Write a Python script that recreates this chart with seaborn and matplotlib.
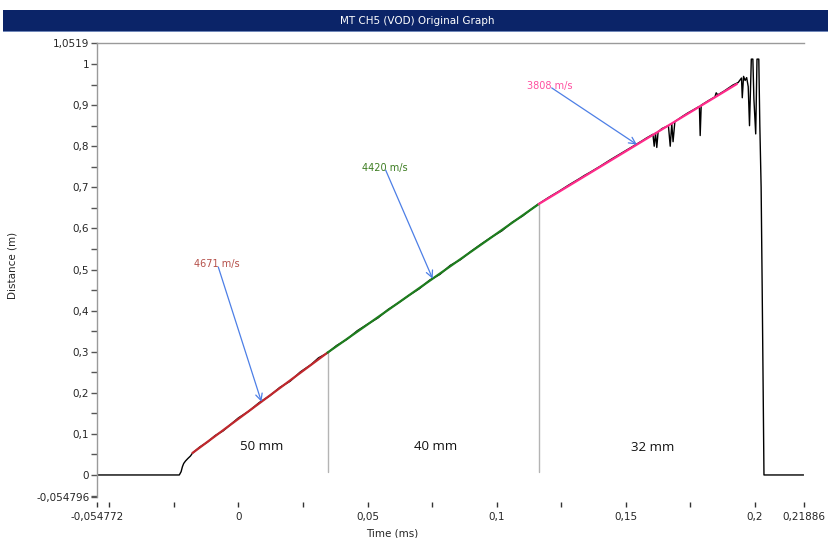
import numpy as np
import pandas as pd
import matplotlib
matplotlib.use("Agg")
import matplotlib.pyplot as plt
from matplotlib.patches import Rectangle
from matplotlib.ticker import FixedLocator, FixedFormatter
import seaborn as sns

# ---- data -------------------------------------------------------------
# measured probe trace: time (ms) / distance (m)
trace_t = [-0.054772, -0.0229, -0.0222, -0.0217, -0.0212, -0.0205, -0.0196, -0.0186, -0.0178,
           -0.015, -0.012, -0.009, -0.006, -0.003, 0.000, 0.004, 0.008, 0.012, 0.016, 0.020,
           0.024, 0.028, 0.031, 0.0345,
           0.038, 0.042, 0.046, 0.050, 0.054, 0.058, 0.062, 0.066, 0.070, 0.074, 0.078, 0.082,
           0.086, 0.090, 0.094, 0.098, 0.102, 0.106, 0.110, 0.113, 0.1163,
           0.120, 0.124, 0.128, 0.132, 0.134, 0.136, 0.140, 0.144, 0.148, 0.152, 0.156, 0.158,
           0.1605, 0.1610, 0.1615, 0.1620, 0.1625, 0.164, 0.1665, 0.1672, 0.1678, 0.1683, 0.169,
           0.172, 0.174, 0.176, 0.1785, 0.1788, 0.1792, 0.182, 0.1845, 0.1850, 0.1856, 0.188,
           0.1915, 0.1935, 0.1948, 0.1951, 0.1956, 0.1962, 0.1968, 0.1974, 0.1979, 0.1986,
           0.1992, 0.1996, 0.2003, 0.2008, 0.2015, 0.2019, 0.2024, 0.2028, 0.2032, 0.2035, 0.21886]
trace_d = [0.0, 0.0, 0.008, 0.020, 0.028, 0.034, 0.040, 0.046, 0.053,
           0.068, 0.080, 0.096, 0.107, 0.123, 0.139, 0.155, 0.176, 0.192, 0.213, 0.228,
           0.251, 0.268, 0.285, 0.297,
           0.315, 0.330, 0.351, 0.367, 0.382, 0.403, 0.419, 0.437, 0.453, 0.474, 0.488, 0.510,
           0.524, 0.544, 0.562, 0.579, 0.594, 0.615, 0.630, 0.645, 0.660,
           0.675, 0.690, 0.706, 0.721, 0.729, 0.736, 0.751, 0.767, 0.782, 0.797, 0.812, 0.820,
           0.829, 0.800, 0.832, 0.797, 0.835, 0.843, 0.850, 0.800, 0.855, 0.811, 0.860,
           0.873, 0.881, 0.888, 0.897, 0.826, 0.900, 0.911, 0.920, 0.930, 0.925, 0.934,
           0.949, 0.955, 0.966, 0.918, 0.970, 0.960, 0.967, 0.945, 0.850, 1.012,
           1.012, 0.915, 0.830, 1.012, 1.012, 0.850, 0.700, 0.460, 0.200, 0.0, 0.0]

# velocity fit segments
seg_bounds = [-0.0178, 0.0345, 0.1163, 0.193]   # ms
seg_start_d = 0.0535                             # m
seg_velocity = [4671, 4420, 3808]                # m/s
seg_names = ["50 mm", "40 mm", "32 mm"]
seg_colors = ["#c0282d", "#1e7d1e", "#ff2a8a"]
label_colors = ["#b5504a", "#3d7d22", "#ff4fa0"]

# annotation positions (text anchor, arrow tail, arrow tip t)
label_xy = [(-0.0171, 0.513), (0.0477, 0.747), (0.1116, 0.946)]
arrow_tail = [(-0.0078, 0.506), (0.0570, 0.742), (0.1213, 0.942)]
arrow_tip_t = [0.0089, 0.0752, 0.1543]
charge_label_xy = [(0.0090, 0.070), (0.0765, 0.070), (0.1605, 0.067)]

x_ticks = [-0.054772, 0, 0.05, 0.1, 0.15, 0.2, 0.21886]
x_labels = ["-0,054772", "0", "0,05", "0,1", "0,15", "0,2", "0,21886"]
x_minor = [-0.05, -0.025, 0.025, 0.075, 0.125, 0.175]
y_ticks = [-0.054796, 0, 0.1, 0.2, 0.3, 0.4, 0.5, 0.6, 0.7, 0.8, 0.9, 1.0, 1.0519]
y_labels = ["-0,054796", "0", "0,1", "0,2", "0,3", "0,4", "0,5", "0,6", "0,7", "0,8",
            "0,9", "1", "1,0519"]
y_minor = [-0.05, 0.05, 0.15, 0.25, 0.35, 0.45, 0.55, 0.65, 0.75, 0.85, 0.95]

# ---- build fit lines from the stated velocities ----------------------
fit_rows = []
d0 = seg_start_d
for i, v in enumerate(seg_velocity):
    t0, t1 = seg_bounds[i], seg_bounds[i + 1]
    d1 = d0 + v / 1000.0 * (t1 - t0)
    fit_rows += [(seg_names[i], t0, d0), (seg_names[i], t1, d1)]
    d0 = d1
fit_df = pd.DataFrame(fit_rows, columns=["segment", "t", "d"])
trace_df = pd.DataFrame({"t": trace_t, "d": trace_d})


def fit_value(t):
    d = seg_start_d
    for i, v in enumerate(seg_velocity):
        t0, t1 = seg_bounds[i], seg_bounds[i + 1]
        if t <= t1:
            return d + v / 1000.0 * (t - t0)
        d += v / 1000.0 * (t1 - t0)
    return d


# ---- figure -----------------------------------------------------------
sns.set_theme(style="white")
plt.rcParams["font.family"] = ["DejaVu Sans"]

fig = plt.figure(figsize=(8.29, 5.38), dpi=100)
fig.patch.set_facecolor("white")
ax = fig.add_axes([0.117, 0.0753, 0.8524, 0.8453])

# title bar
fig.patches.append(Rectangle((0.004, 1 - 31 / 538), 0.996, 21 / 538, transform=fig.transFigure,
                             facecolor="#0b2468", edgecolor="none", zorder=0))
fig.patches.append(Rectangle((0.004, 1 - 32 / 538), 0.996, 1.2 / 538, transform=fig.transFigure,
                             facecolor="#6f86b8", edgecolor="none", zorder=0))
fig.text(0.503, 1 - 20.5 / 538, "MT CH5 (VOD) Original Graph", color="white",
         ha="center", va="center", fontsize=7.5)

sns.lineplot(data=trace_df, x="t", y="d", ax=ax, color="black", lw=1.0,
             estimator=None, sort=False, zorder=2)
sns.lineplot(data=fit_df, x="t", y="d", hue="segment", palette=seg_colors, ax=ax,
             lw=1.6, estimator=None, sort=False, legend=False, zorder=3)

# segment separators
for tb in seg_bounds[1:3]:
    ax.plot([tb, tb], [0.007, fit_value(tb)], color="#b4b4b4", lw=1.0, zorder=1)

# velocity annotations
for i, v in enumerate(seg_velocity):
    tip = (arrow_tip_t[i], fit_value(arrow_tip_t[i]))
    ax.annotate("", xy=tip, xytext=arrow_tail[i],
                arrowprops=dict(arrowstyle="->", color="#4d7fe6", lw=0.9,
                                mutation_scale=12, shrinkA=0, shrinkB=0), zorder=4)
    ax.text(label_xy[i][0], label_xy[i][1], f"{v} m/s", color=label_colors[i],
            fontsize=7, ha="left", va="center", zorder=5)
    ax.text(charge_label_xy[i][0], charge_label_xy[i][1], seg_names[i], color="#111111",
            fontsize=9.5, ha="center", va="center", family="Open Sans")

# axes styling
ax.set_xlim(x_ticks[0], x_ticks[-1])
ax.set_ylim(y_ticks[0], y_ticks[-1])
ax.xaxis.set_major_locator(FixedLocator(x_ticks))
ax.xaxis.set_major_formatter(FixedFormatter(x_labels))
ax.xaxis.set_minor_locator(FixedLocator(x_minor))
ax.yaxis.set_major_locator(FixedLocator(y_ticks))
ax.yaxis.set_major_formatter(FixedFormatter(y_labels))
ax.yaxis.set_minor_locator(FixedLocator(y_minor))

for s in ["right", "bottom"]:
    ax.spines[s].set_visible(False)
for s in ["left", "top"]:
    ax.spines[s].set_color("#9a9a9a")
    ax.spines[s].set_linewidth(1.0)
ax.spines["bottom"].set_position(("outward", 3))

ax.tick_params(axis="y", which="both", direction="out", length=4, width=1,
               color="#555555", labelsize=7.5, pad=1.5, left=True)
ax.tick_params(axis="x", which="both", direction="out", length=3.5, width=1,
               color="#333333", labelsize=7.5, pad=4, bottom=True)

ax.set_xlabel("Time (ms)", fontsize=7.5, labelpad=2)
ax.xaxis.set_label_coords(0.418, -0.068)
ax.set_ylabel("Distance (m)", fontsize=7.5, labelpad=4)
ax.yaxis.set_label_coords(-0.113, 0.51)

fig.savefig("out.png", dpi=100, facecolor="white")
